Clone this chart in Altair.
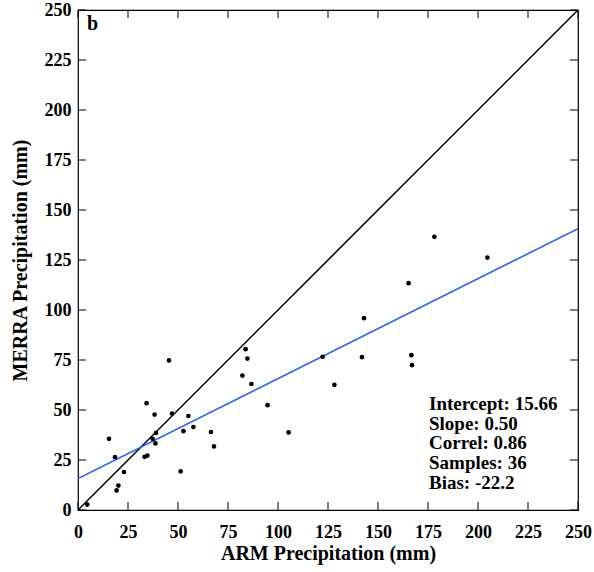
import altair as alt
import pandas as pd

arm = [4.6, 15.5, 18.5, 19.3, 20.2, 23.0, 33.3, 34.7, 34.3, 37.3, 38.3, 39.0,
       38.7, 45.5, 47.0, 51.3, 52.7, 55.2, 57.7, 66.5, 68.0, 82.2, 83.8, 84.7,
       86.7, 94.8, 105.3, 122.3, 128.2, 142.0, 143.0, 165.3, 166.7, 167.0,
       178.2, 204.7]
merra = [2.7, 35.6, 26.4, 9.8, 12.2, 19.0, 26.6, 27.2, 53.4, 35.6, 47.7, 38.5,
         33.3, 74.8, 48.2, 19.3, 39.4, 47.0, 41.5, 39.0, 31.8, 67.2, 80.4, 75.7,
         63.0, 52.4, 38.8, 76.6, 62.6, 76.4, 95.9, 113.4, 77.4, 72.4, 136.6, 126.2]

intercept = 15.66
slope = 0.50
stats = ["Intercept: 15.66", "Slope: 0.50", "Correl: 0.86", "Samples: 36", "Bias: -22.2"]
ticks = [0, 25, 50, 75, 100, 125, 150, 175, 200, 225, 250]
line_ends = [0, 250]

pts = pd.DataFrame({"arm": arm, "merra": merra})
one = pd.DataFrame({"arm": line_ends, "merra": line_ends})
fit = pd.DataFrame({"arm": line_ends, "merra": [intercept + slope * v for v in line_ends]})
tk = pd.DataFrame({"t": ticks})

FONT = "Liberation Serif"
xs = alt.Scale(domain=[0, 250], nice=False)
ys = alt.Scale(domain=[0, 250], nice=False)

base_x = alt.X("arm:Q", scale=xs, title="ARM Precipitation (mm)",
               axis=alt.Axis(values=ticks, ticks=False, domain=False, grid=False,
                             labelFont=FONT, labelFontSize=18, labelFontWeight="bold",
                             labelColor="black", labelPadding=13,
                             titleFont=FONT, titleFontSize=20, titleFontWeight="bold",
                             titleColor="black", titlePadding=2, labelFlush=False))
base_y = alt.Y("merra:Q", scale=ys, title="MERRA Precipitation (mm)",
               axis=alt.Axis(values=ticks, ticks=False, domain=False, grid=False,
                             labelFont=FONT, labelFontSize=18, labelFontWeight="bold",
                             labelColor="black", labelPadding=7,
                             titleFont=FONT, titleFontSize=20, titleFontWeight="bold",
                             titleColor="black", titlePadding=14, labelFlush=False))

line1 = alt.Chart(one).mark_line(color="black", strokeWidth=1.5, clip=True).encode(x=base_x, y=base_y)
line2 = alt.Chart(fit).mark_line(color="#1f5fff", strokeWidth=1.5, clip=True).encode(x="arm:Q", y="merra:Q")
points = alt.Chart(pts).mark_circle(color="black", opacity=1, size=22).encode(x="arm:Q", y="merra:Q")

tb = alt.Chart(tk).mark_rule(color="black", strokeWidth=1).encode(
    x=alt.X("t:Q", scale=xs), y=alt.value(500), y2=alt.value(492))
tt = alt.Chart(tk).mark_rule(color="black", strokeWidth=1).encode(
    x=alt.X("t:Q", scale=xs), y=alt.value(0), y2=alt.value(8))
tl = alt.Chart(tk).mark_rule(color="black", strokeWidth=1).encode(
    y=alt.Y("t:Q", scale=ys), x=alt.value(0), x2=alt.value(8))
tr = alt.Chart(tk).mark_rule(color="black", strokeWidth=1).encode(
    y=alt.Y("t:Q", scale=ys), x=alt.value(500), x2=alt.value(492))

stat_text = alt.Chart(pd.DataFrame({"a": [0]})).mark_text(
    text=stats, font=FONT, fontSize=19, fontWeight="bold", align="left",
    baseline="top", lineHeight=19.7, color="black").encode(
    x=alt.value(351), y=alt.value(385))

label_b = alt.Chart(pd.DataFrame({"a": [0]})).mark_text(
    text="b", font=FONT, fontSize=20, fontWeight="bold", align="left",
    baseline="middle", color="black").encode(x=alt.value(9), y=alt.value(14))

chart = alt.layer(line1, line2, points, tb, tt, tl, tr, stat_text, label_b).properties(
    width=500, height=500,
    autosize=alt.AutoSizeParams(type="none"),
    padding={"left": 78, "top": 10, "right": 16, "bottom": 62},
    background="white",
).configure_view(stroke="black", strokeWidth=1.2)

chart.save("out.html", embed_options={"renderer": "svg", "actions": False})
